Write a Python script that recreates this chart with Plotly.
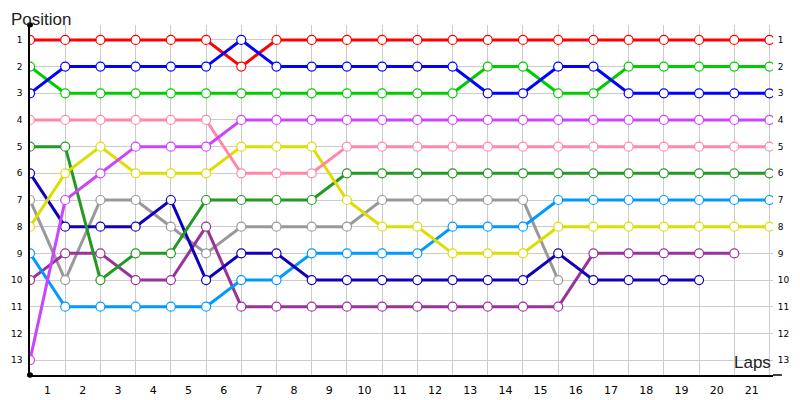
import plotly.graph_objects as go

laps = list(range(22))
lap_labels = [str(i) for i in range(1, 22)]
positions = list(range(1, 14))

red = [1, 1, 1, 1, 1, 1, 2, 1, 1, 1, 1, 1, 1, 1, 1, 1, 1, 1, 1, 1, 1, 1]
blue = [3, 2, 2, 2, 2, 2, 1, 2, 2, 2, 2, 2, 2, 3, 3, 2, 2, 3, 3, 3, 3, 3]
green = [2, 3, 3, 3, 3, 3, 3, 3, 3, 3, 3, 3, 3, 2, 2, 3, 3, 2, 2, 2, 2, 2]
pink = [4, 4, 4, 4, 4, 4, 6, 6, 6, 5, 5, 5, 5, 5, 5, 5, 5, 5, 5, 5, 5, 5]
violet = [13, 7, 6, 5, 5, 5, 4, 4, 4, 4, 4, 4, 4, 4, 4, 4, 4, 4, 4, 4, 4, 4]
yellow = [8, 6, 5, 6, 6, 6, 5, 5, 5, 7, 8, 8, 9, 9, 9, 8, 8, 8, 8, 8, 8, 8]
dkgreen = [5, 5, 10, 9, 9, 7, 7, 7, 7, 6, 6, 6, 6, 6, 6, 6, 6, 6, 6, 6, 6, 6]
dkblue = [6, 8, 8, 8, 7, 10, 9, 9, 10, 10, 10, 10, 10, 10, 10, 9, 10, 10, 10, 10]
gray = [7, 10, 7, 7, 8, 9, 8, 8, 8, 8, 7, 7, 7, 7, 7, 10]
ltblue = [9, 11, 11, 11, 11, 11, 10, 10, 9, 9, 9, 9, 8, 8, 8, 7, 7, 7, 7, 7, 7, 7]
purple = [10, 9, 9, 10, 10, 8, 11, 11, 11, 11, 11, 11, 11, 11, 11, 11, 9, 9, 9, 9, 9]

series = [
    ("gray", gray, "#999999"),
    ("purple", purple, "#993399"),
    ("ltblue", ltblue, "#0099FF"),
    ("dkblue", dkblue, "#1100BB"),
    ("dkgreen", dkgreen, "#229922"),
    ("yellow", yellow, "#DDDD00"),
    ("pink", pink, "#FF88AA"),
    ("violet", violet, "#CC44FF"),
    ("green", green, "#00CC00"),
    ("red", red, "#FF0000"),
    ("blue", blue, "#0000FF"),
]

fig = go.Figure()
for name, vals, col in series:
    fig.add_trace(go.Scatter(
        x=laps[:len(vals)], y=vals, mode="lines+markers", name=name,
        line=dict(color=col, width=3),
        marker=dict(symbol="circle", size=9, color="white",
                    line=dict(color=col, width=1.2)),
        showlegend=False, hoverinfo="skip",
    ))

# invisible trace for the right-hand position axis
fig.add_trace(go.Scatter(x=[0], y=[1], yaxis="y2", mode="markers",
                         marker=dict(opacity=0), showlegend=False, hoverinfo="skip"))

yr = [13.56, 0.44]
tickfont = dict(family="DejaVu Sans", size=9, color="#000000")
titlefont = dict(family="Liberation Sans", size=17, color="#222222")

fig.update_layout(
    width=792, height=392,
    margin=dict(l=22, r=27, t=17, b=25, autoexpand=False),
    paper_bgcolor="white", plot_bgcolor="white",
    xaxis=dict(
        range=[0, 21.1], automargin=False,
        tickvals=[i + 0.5 for i in range(21)], ticktext=lap_labels,
        showgrid=False, zeroline=False,
        ticks="outside", ticklen=4, tickcolor="rgba(0,0,0,0)",
        tickfont=dict(family="DejaVu Sans", size=11, color="#000000"),
        showline=True, linecolor="black", linewidth=1.5,
        minor=dict(tickvals=laps, showgrid=True, gridcolor="#CCCCCC",
                   gridwidth=1, ticks=""),
    ),
    yaxis=dict(
        range=yr, automargin=False,
        tickvals=positions, ticktext=[str(p) for p in positions],
        showgrid=True, gridcolor="#CCCCCC", gridwidth=1, zeroline=False,
        ticks="outside", ticklen=4, tickcolor="rgba(0,0,0,0)",
        tickfont=tickfont,
        showline=True, linecolor="black", linewidth=1.5,
    ),
    yaxis2=dict(
        range=yr, automargin=False,
        tickvals=positions, ticktext=[str(p) for p in positions],
        overlaying="y", side="right", showgrid=False, zeroline=False,
        ticks="outside", ticklen=2, tickcolor="rgba(0,0,0,0)",
        tickfont=tickfont, showline=False,
    ),
    annotations=[
        dict(text="Position", xref="paper", yref="paper", x=-0.0285, y=1.0486,
             xanchor="left", yanchor="top", showarrow=False,
             font=titlefont),
        dict(text="Laps", xref="paper", yref="paper", x=1.0, y=0.0,
             xanchor="right", yanchor="bottom", yshift=1, showarrow=False,
             font=titlefont),
        dict(x=1.0, y=0, xref="paper", yref="paper", ax=-2, ay=0,
             axref="pixel", ayref="pixel", xshift=10, text="",
             showarrow=True, arrowhead=2, arrowsize=1, arrowwidth=1.5,
             arrowcolor="black", standoff=0),
    ],
    shapes=[
        dict(type="line", xref="paper", yref="paper", x0=1.0, x1=1.012,
             y0=0, y1=0, line=dict(color="black", width=1.5)),
        dict(type="circle", xref="paper", yref="paper",
             x0=-0.004, x1=0.004, y0=0.993, y1=1.008,
             fillcolor="black", line=dict(color="black", width=0)),
        dict(type="circle", xref="paper", yref="paper",
             x0=-0.004, x1=0.004, y0=-0.008, y1=0.008,
             fillcolor="black", line=dict(color="black", width=0)),
    ],
)

fig.write_html("out.html")
